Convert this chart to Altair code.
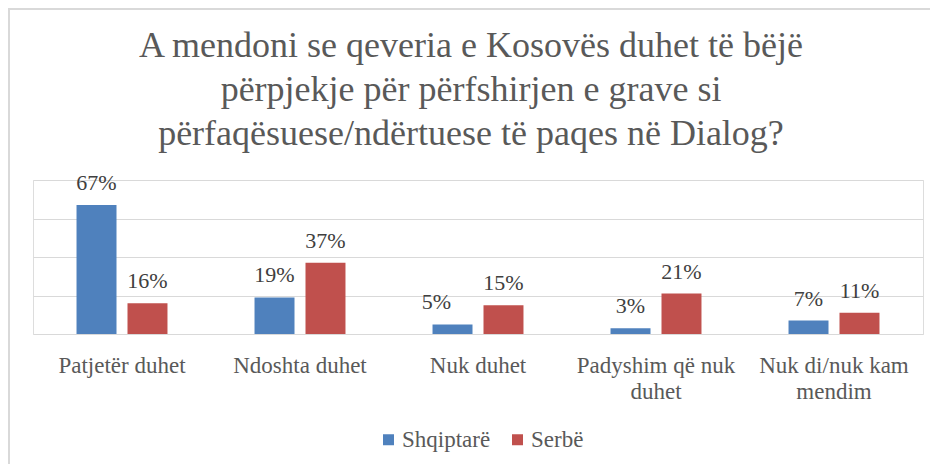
import altair as alt
import pandas as pd

# ---- data ----
categories = ["Patjetër duhet", "Ndoshta duhet", "Nuk duhet",
              "Padyshim që nuk\nduhet", "Nuk di/nuk kam\nmendim"]
groups = ["Shqiptarë", "Serbë"]
shqiptare = [67, 19, 5, 3, 7]
serbe = [16, 37, 15, 21, 11]
y_ticks = [0, 20, 40, 60, 80]
title_lines = ["A mendoni se qeveria e Kosovës duhet të bëjë",
               "përpjekje për përfshirjen e grave si",
               "përfaqësuese/ndërtuese të paqes në Dialog?"]

colors = ["#4F81BD", "#C0504D"]
FONT = "'Liberation Serif', 'Times New Roman', 'DejaVu Serif', serif"
TEXT = "#595959"
GRID = "#D9D9D9"

rows = []
for i, c in enumerate(categories):
    for g, vals in zip(groups, [shqiptare, serbe]):
        rows.append({"kategoria": c, "grupi": g, "vlera": vals[i],
                     "etiketa": f"{vals[i]}%"})
df = pd.DataFrame(rows)

x_enc = alt.X(
    "kategoria:N", sort=categories,
    scale=alt.Scale(paddingInner=0.489, paddingOuter=0.2445),
    axis=alt.Axis(title=None, labelAngle=0, ticks=False, tickSize=0, domain=False,
                  labelExpr="split(datum.label, '\\n')", labelPadding=20,
                  labelFont=FONT, labelFontSize=23, labelColor=TEXT,
                  labelLineHeight=26, labelLimit=400, labelOverlap=False),
)
xo_enc = alt.XOffset("grupi:N", sort=groups,
                     scale=alt.Scale(paddingInner=0.2157, paddingOuter=0))
y_enc = alt.Y(
    "vlera:Q",
    scale=alt.Scale(domain=[0, 80], nice=False),
    axis=alt.Axis(title=None, values=y_ticks, labels=False, ticks=False,
                  domain=False, grid=True, gridColor=GRID, gridWidth=1),
)

base = alt.Chart(df).encode(x=x_enc, xOffset=xo_enc, y=y_enc)

bars = base.mark_bar().encode(
    color=alt.Color(
        "grupi:N", sort=groups,
        scale=alt.Scale(domain=groups, range=colors),
        legend=alt.Legend(title=None, orient="none", legendX=344, legendY=248,
                          direction="horizontal", symbolType="square",
                          symbolSize=121, symbolStrokeWidth=0,
                          labelFont=FONT, labelFontSize=23, labelColor=TEXT,
                          columnPadding=15, labelOffset=2),
    )
)

is_shifted = "datum.kategoria == 'Nuk duhet' && datum.grupi == 'Shqiptarë'"
labels = base.mark_text(baseline="alphabetic", dy=-15, font=FONT, fontSize=22,
                        color="#404040").encode(text="etiketa:N").transform_filter(
    "!(" + is_shifted + ")")
labels_shift = base.mark_text(baseline="alphabetic", dy=-15, dx=-16, font=FONT,
                              fontSize=22, color="#404040").encode(
    text="etiketa:N").transform_filter(is_shifted)

one = pd.DataFrame({"k": [0]})
frame_top = alt.Chart(one).mark_rule(color=GRID, strokeWidth=2).encode(
    x=alt.value(-25), x2=alt.value(897), y=alt.value(-171))
frame_left = alt.Chart(one).mark_rule(color=GRID, strokeWidth=2).encode(
    x=alt.value(-24), y=alt.value(-172), y2=alt.value(284))

title = alt.Chart(one).mark_text(
    font=FONT, fontSize=36, color=TEXT, align="center", baseline="alphabetic",
    lineHeight=44,
).encode(x=alt.value(438), y=alt.value(-123), text=alt.value(title_lines))

chart = alt.layer(bars, labels, labels_shift, frame_top, frame_left, title).properties(
    width=890, height=154,
    padding={"left": 25, "top": 172, "right": 7, "bottom": 130},
    autosize=alt.AutoSizeParams(type="none"),
).configure_view(stroke=None).configure(background="white")

chart.save("out.html", embed_options={"renderer": "svg", "actions": False})
